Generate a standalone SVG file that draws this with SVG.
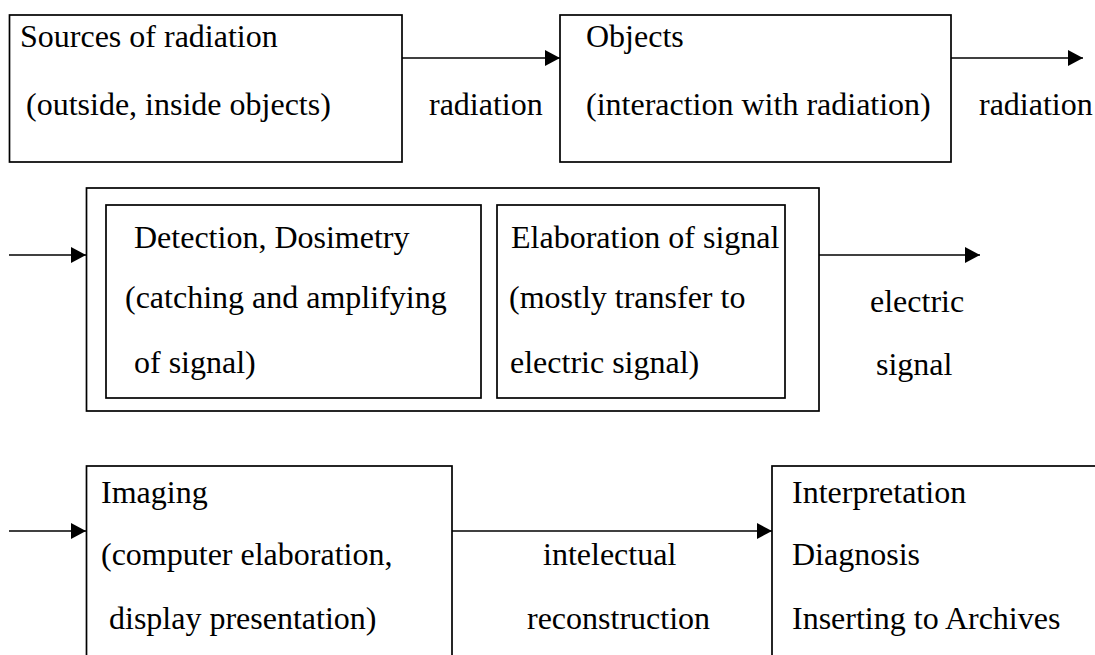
<svg xmlns="http://www.w3.org/2000/svg" width="1095" height="655" viewBox="0 0 1095 655">
<style>
.box{fill:none;stroke:#000;stroke-width:1.7}
.t{font-size:32px;fill:#000}
.c{stroke:#000;stroke-width:1.7;fill:none;marker-end:url(#ah)}
</style>
<defs>
<marker id="ah" markerUnits="userSpaceOnUse" markerWidth="16" markerHeight="17" refX="15" refY="8" orient="auto">
<path d="M0,0 L15,8 L0,16 z" fill="#000"/>
</marker>
</defs>
<rect width="1095" height="655" fill="#fff"/>
<g font-family="Liberation Serif, Times New Roman, DejaVu Serif, serif">
<g id="sources">
<rect class="box" x="9.5" y="15" width="392.5" height="147"/>
<text class="t" x="20" y="47">Sources of radiation</text>
<text class="t" x="26" y="115">(outside, inside objects)</text>
</g>
<g id="objects">
<rect class="box" x="560" y="15" width="391" height="147"/>
<text class="t" x="586" y="47">Objects</text>
<text class="t" x="586" y="115">(interaction with radiation)</text>
</g>
<g id="detection-group">
<rect class="box" x="86.5" y="188" width="732.5" height="223"/>
</g>
<g id="detection">
<rect class="box" x="106" y="205" width="375" height="193"/>
<text class="t" x="134" y="248">Detection, Dosimetry</text>
<text class="t" x="125" y="308">(catching and amplifying</text>
<text class="t" x="134" y="373">of signal)</text>
</g>
<g id="elaboration">
<rect class="box" x="497" y="205" width="288" height="193"/>
<text class="t" x="511" y="248">Elaboration of signal</text>
<text class="t" x="509" y="308">(mostly transfer to</text>
<text class="t" x="510" y="373">electric signal)</text>
</g>
<g id="imaging">
<rect class="box" x="86.5" y="466" width="365.5" height="200"/>
<text class="t" x="101" y="503">Imaging</text>
<text class="t" x="101" y="565">(computer elaboration,</text>
<text class="t" x="109" y="629">display presentation)</text>
</g>
<g id="interpretation">
<rect class="box" x="772" y="466" width="340" height="200"/>
<text class="t" x="792" y="503">Interpretation</text>
<text class="t" x="792" y="565">Diagnosis</text>
<text class="t" x="792" y="629">Inserting to Archives</text>
</g>
<g id="connectors">
<line class="c" x1="402" y1="58" x2="560" y2="58"/>
<line class="c" x1="951" y1="58" x2="1083" y2="58"/>
<line class="c" x1="9" y1="255" x2="86" y2="255"/>
<line class="c" x1="819" y1="255" x2="980" y2="255"/>
<line class="c" x1="9" y1="531" x2="86" y2="531"/>
<line class="c" x1="452" y1="531" x2="772" y2="531"/>
<text class="t" x="429" y="115">radiation</text>
<text class="t" x="979" y="115">radiation</text>
<text class="t" x="870" y="312">electric</text>
<text class="t" x="876" y="375">signal</text>
<text class="t" x="543" y="565">intelectual</text>
<text class="t" x="527" y="629">reconstruction</text>
</g>
</g>
</svg>
